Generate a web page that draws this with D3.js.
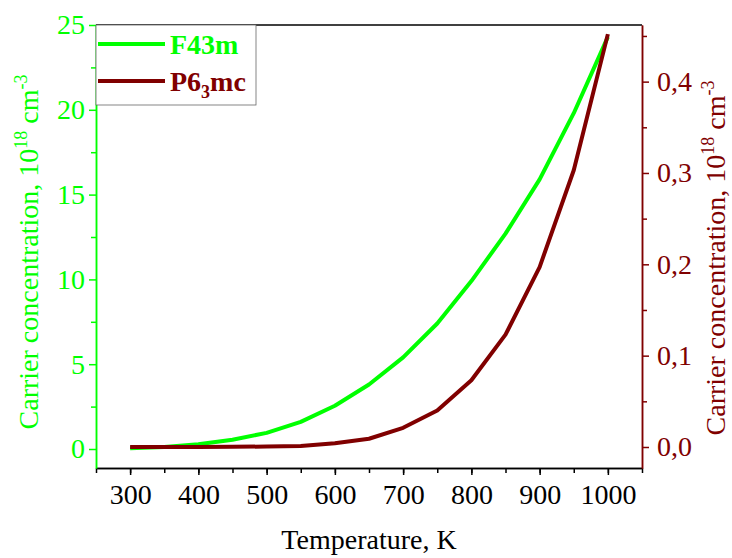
<!DOCTYPE html>
<html><head><meta charset="utf-8">
<script src="https://cdn.jsdelivr.net/npm/d3@7"></script>
<style>body{margin:0;background:#fff}svg{display:block} svg text{font-family:"Liberation Serif",Tinos,"Times New Roman",Times,"DejaVu Serif",serif !important}</style>
</head><body><div id="chart"></div>
<script>
const temperature = [300,350,400,450,500,550,600,650,700,750,800,850,900,950,1000];
const f43m = [0.05,0.12,0.28,0.55,0.95,1.6,2.55,3.8,5.4,7.4,9.9,12.7,15.9,19.8,24.3];
const p63mc = [0,0,0,0.0002,0.0005,0.001,0.004,0.009,0.021,0.040,0.073,0.123,0.197,0.303,0.452];
const xTicks = [300,400,500,600,700,800,900,1000];
const leftTicks = [0,5,10,15,20,25];
const rightTicks = [0,0.1,0.2,0.3,0.4];
const seriesNames = ["F43m","P63mc"];

const W=732,H=558;
const green="#00ff00", red="#800000";
const L=96,R=642,T=25,B=468;
const FONT='"Liberation Serif",Tinos,"Times New Roman",Times,"DejaVu Serif",serif';
const svg=d3.select("#chart").append("svg").attr("width",W).attr("height",H)
  .attr("font-family",FONT);

const x=d3.scaleLinear().domain([250,1050]).range([L,R]);
const yL=d3.scaleLinear().domain([-1.12,25]).range([B,T]);
const yR=d3.scaleLinear().domain([-0.023,0.462]).range([B,T]);

// top border
svg.append("line").attr("x1",L).attr("x2",R).attr("y1",T).attr("y2",T).attr("stroke","#000").attr("stroke-width",1.5);

function styleAxis(g,color){
  g.attr("font-family",FONT).attr("font-size",28);
  g.select(".domain").attr("stroke",color).attr("stroke-width",1.5);
  g.selectAll(".tick line").attr("stroke",color).attr("stroke-width",1.5);
  g.selectAll(".tick text").attr("fill",color).attr("font-family",FONT).attr("font-size",28);
}
// bottom axis
const xMinor=d3.range(250,1051,50);
svg.append("g").attr("transform",`translate(0,${B})`)
  .call(d3.axisBottom(x).tickValues(xMinor).tickSize(5).tickFormat("").tickSizeOuter(0))
  .call(g=>styleAxis(g,"#000"));
svg.append("g").attr("transform",`translate(0,${B})`)
  .call(d3.axisBottom(x).tickValues(xTicks).tickSize(7).tickPadding(9).tickFormat(d3.format("d")).tickSizeOuter(0))
  .call(g=>styleAxis(g,"#000"));

// left axis
svg.append("g").attr("transform",`translate(${L},0)`)
  .call(d3.axisLeft(yL).tickValues(d3.range(2.5,25,5)).tickSize(5).tickFormat("").tickSizeOuter(0))
  .call(g=>styleAxis(g,green));
svg.append("g").attr("transform",`translate(${L},0)`)
  .call(d3.axisLeft(yL).tickValues(leftTicks).tickSize(7).tickPadding(4).tickFormat(d3.format("d")).tickSizeOuter(0))
  .call(g=>styleAxis(g,green));

// right axis
svg.append("g").attr("transform",`translate(${R},0)`)
  .call(d3.axisRight(yR).tickValues([0.05,0.15,0.25,0.35,0.45]).tickSize(5).tickFormat("").tickSizeOuter(0))
  .call(g=>styleAxis(g,red));
svg.append("g").attr("transform",`translate(${R},0)`)
  .call(d3.axisRight(yR).tickValues(rightTicks).tickSize(7).tickPadding(8).tickFormat(d=>d3.format(".1f")(d).replace(".",",")).tickSizeOuter(0))
  .call(g=>styleAxis(g,red));

// lines
const data1=temperature.map((t,i)=>[t,f43m[i]]);
const data2=temperature.map((t,i)=>[t,p63mc[i]]);
svg.append("path").datum(data1).attr("fill","none").attr("stroke",green).attr("stroke-width",4)
  .attr("stroke-linejoin","round").attr("d",d3.line().x(d=>x(d[0])).y(d=>yL(d[1])));
svg.append("path").datum(data2).attr("fill","none").attr("stroke",red).attr("stroke-width",4)
  .attr("stroke-linejoin","round").attr("d",d3.line().x(d=>x(d[0])).y(d=>yR(d[1])));

// axis titles
svg.append("text").attr("x",(L+R)/2).attr("y",549).attr("text-anchor","middle")
  .attr("font-size",28).attr("fill","#000").text("Temperature, K");
function title(xp,yp,color){
  const t=svg.append("text").attr("transform",`translate(${xp},${yp}) rotate(-90)`).attr("text-anchor","middle")
    .attr("font-size",28).attr("fill",color);
  t.append("tspan").text("Carrier concentration, 10");
  t.append("tspan").attr("dy",-11).attr("font-size",18).text("18");
  t.append("tspan").attr("dy",11).text(" cm");
  t.append("tspan").attr("dy",-11).attr("font-size",18).text("-3");
}
title(38,252,green);
title(725,258,red);

// legend
const lg=svg.append("g");
lg.append("rect").attr("x",L).attr("y",T).attr("width",160).attr("height",80)
  .attr("fill","#fff").attr("stroke","#666").attr("stroke-width",0.8);
const colors=[green,red];
seriesNames.forEach((n,i)=>{
  const yy=T+19+i*37;
  lg.append("line").attr("x1",L+2).attr("x2",L+69).attr("y1",yy).attr("y2",yy)
    .attr("stroke",colors[i]).attr("stroke-width",4);
  const t=lg.append("text").attr("x",L+74).attr("y",yy+10).attr("fill",colors[i])
    .attr("font-size",28).attr("font-weight","bold");
  if(n==="P63mc"){
    t.append("tspan").text("P6");
    t.append("tspan").attr("dy",7).attr("font-size",18).text("3");
    t.append("tspan").attr("dy",-7).text("mc");
  } else t.text(n);
});
</script></body></html>
